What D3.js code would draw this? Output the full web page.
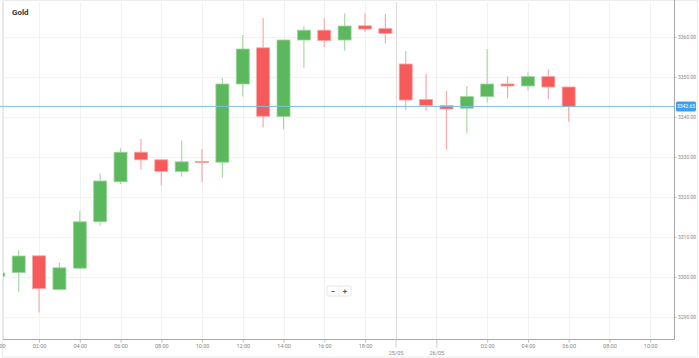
<!DOCTYPE html>
<html><head><meta charset="utf-8">
<script src="https://cdn.jsdelivr.net/npm/d3@7"></script>
<style>body{margin:0;background:#fff;font-family:Roboto,"Open Sans",sans-serif}svg{display:block}</style>
</head><body><svg id="c" width="699" height="358"></svg>
<script>
// ---- data ----
const candleIndex = [0,1,2,3,4,5,6,7,8,9,10,11,12,13,14,15,16,17,18,19,20,21,22,23,24,25,26,27,28];
const openV  = [3300.2,3301.1,3305.3,3296.9,3302.2,3313.8,3323.8,3331.2,3329.3,3326.4,3328.9,3328.7,3348.25,3357.3,3340.1,3359.25,3361.7,3359.25,3362.8,3362.1,3353.25,3344.4,3342.9,3342.2,3345.1,3348.25,3347.75,3350.1,3347.5];
const highV  = [3302.0,3306.75,3305.3,3303.6,3316.5,3325.9,3332.2,3334.5,3329.3,3334.1,3332.0,3349.8,3360.5,3364.75,3359.3,3362.6,3364.7,3365.9,3365.9,3365.75,3356.5,3350.75,3346.5,3347.75,3357.0,3350.1,3351.2,3351.9,3347.5];
const lowV   = [3298.5,3296.25,3291.1,3296.8,3302.0,3312.8,3323.25,3326.9,3322.8,3325.1,3323.7,3324.8,3345.1,3337.4,3336.9,3352.3,3357.5,3356.6,3361.25,3358.4,3341.75,3341.6,3331.75,3335.9,3343.6,3344.7,3346.6,3344.5,3338.8];
const closeV = [3301.0,3305.25,3297.1,3302.3,3313.8,3324.0,3331.2,3329.3,3326.4,3328.8,3328.6,3348.25,3357.0,3340.2,3359.25,3361.7,3359.1,3362.75,3362.0,3360.9,3344.25,3342.9,3342.0,3345.1,3348.25,3347.75,3350.1,3347.5,3342.65];
const timeTickIndex  = [0,2,4,6,8,10,12,14,16,18,24,26,28,30,32];
const timeTickLabels = ["00:00","02:00","04:00","06:00","08:00","10:00","12:00","14:00","16:00","18:00","02:00","04:00","06:00","08:00","10:00"];
const dateTickIndex  = [19.5,21.5];
const dateTickLabels = ["25/05","26/05"];
const priceTicks = [3290,3300,3310,3320,3330,3340,3350,3360];
const currentPrice = 3342.65;
const title = "Gold";

const candles = candleIndex.map((i,k)=>({i,o:openV[k],h:highV[k],l:lowV[k],c:closeV[k]}));

// ---- layout ----
const W=699,H=358, L=3, R=674, T=2, B=339;
const svg=d3.select("#c");
const x=d3.scaleLinear().domain([1,28]).range([18.7,568.7]);
const y=d3.scaleLinear().domain([3290,3360]).range([317,37]);

svg.append("rect").attr("x",2.5).attr("y",0.5).attr("width",W-4).attr("height",H-1.5)
  .attr("fill","#fff").attr("stroke","#ececec");

svg.append("defs").append("clipPath").attr("id","clip")
  .append("rect").attr("x",L).attr("y",T).attr("width",R-L).attr("height",B-T);

const grid=svg.append("g");
grid.selectAll("line.h").data(priceTicks).join("line")
  .attr("x1",L).attr("x2",R).attr("y1",d=>Math.round(y(d))+0.5).attr("y2",d=>Math.round(y(d))+0.5)
  .attr("stroke","#f2f2f2");
grid.selectAll("line.v").data(timeTickIndex).join("line")
  .attr("x1",d=>Math.round(x(d))+0.5).attr("x2",d=>Math.round(x(d))+0.5).attr("y1",T).attr("y2",B)
  .attr("stroke","#f2f2f2");
grid.selectAll("line.d").data(dateTickIndex).join("line")
  .attr("x1",d=>Math.round(x(d))+0.5).attr("x2",d=>Math.round(x(d))+0.5).attr("y1",T).attr("y2",B)
  .attr("stroke",(d,k)=>k===0?"#dcdcdc":"#eeeeee");

// left / top frame lines
svg.append("line").attr("x1",L+0.5).attr("x2",L+0.5).attr("y1",T).attr("y2",B).attr("stroke","#e6e6e6");

const plot=svg.append("g").attr("clip-path","url(#clip)");
const green="#5cb85c", red="#f75a5a";
const bw=13;
const g=plot.selectAll("g.candle").data(candles).join("g");
g.append("line")
  .attr("x1",d=>x(d.i)).attr("x2",d=>x(d.i))
  .attr("y1",d=>y(d.h)).attr("y2",d=>y(d.l))
  .attr("stroke",d=>d.c>=d.o?"#a9dba9":"#f9abab").attr("stroke-width",1.2);
g.append("rect")
  .attr("x",d=>x(d.i)-bw/2).attr("width",bw)
  .attr("y",d=>y(Math.max(d.o,d.c)))
  .attr("height",d=>Math.max(1.2,Math.abs(y(d.o)-y(d.c))))
  .attr("fill",d=>d.c>=d.o?green:red)
  .attr("stroke",d=>d.c>=d.o?"#9ed59e":"#fba3a3").attr("stroke-width",0.8);

// current price line
svg.append("line").attr("x1",0).attr("x2",R).attr("y1",y(currentPrice)).attr("y2",y(currentPrice))
  .attr("stroke","#7dbdeb").attr("stroke-width",1);

// axes lines
svg.append("line").attr("x1",L).attr("x2",R+0.5).attr("y1",B+0.5).attr("y2",B+0.5).attr("stroke","#a8a8a8");
svg.append("line").attr("x1",R+0.5).attr("x2",R+0.5).attr("y1",0).attr("y2",B+0.5).attr("stroke","#a8a8a8");

// right axis
const ya=svg.append("g").attr("transform",`translate(${R+0.5},0)`)
  .call(d3.axisRight(y).tickValues(priceTicks).tickFormat(d3.format(".2f")).tickSize(2).tickPadding(1.5));
ya.select(".domain").remove();
ya.selectAll("line").attr("stroke","#bbb");
ya.selectAll("text").attr("fill","#888").attr("font-size",5).attr("font-family","Roboto,sans-serif");

// bottom time axis
const xa=svg.append("g").attr("transform",`translate(0,${B+0.5})`)
  .call(d3.axisBottom(x).tickValues(timeTickIndex).tickFormat((d,k)=>timeTickLabels[k]).tickSize(3).tickPadding(2));
xa.select(".domain").remove();
xa.selectAll("line").attr("stroke","#bbb");
xa.selectAll("text").attr("fill","#888").attr("font-size",5.5).attr("font-family","Roboto,sans-serif");

const xd=svg.append("g").attr("transform",`translate(0,${B+0.5})`)
  .call(d3.axisBottom(x).tickValues(dateTickIndex).tickFormat((d,k)=>dateTickLabels[k]).tickSize(8).tickPadding(4));
xd.select(".domain").remove();
xd.selectAll("line").attr("stroke","#ccc");
xd.selectAll("text").attr("fill","#888").attr("font-size",5.5).attr("font-family","Roboto,sans-serif");

// price label
const py=y(currentPrice);
svg.append("rect").attr("x",R+2).attr("y",py-5).attr("width",20).attr("height",10).attr("rx",1.5)
  .attr("fill","#3d9ff0");
svg.append("text").attr("x",R+12).attr("y",py+1.8).attr("text-anchor","middle")
  .attr("fill","#fff").attr("font-size",5).attr("font-family","Roboto,sans-serif").text(currentPrice.toFixed(2));

// title
svg.append("text").attr("x",12).attr("y",15).attr("font-size",8).attr("font-weight","bold")
  .attr("fill","#333").attr("font-family","Roboto,sans-serif").text(title);

// zoom control
const zc=svg.append("g").attr("transform","translate(327,286)");
zc.append("rect").attr("width",24).attr("height",10).attr("rx",1).attr("fill","#fff").attr("stroke","#e6e6e6");
zc.append("line").attr("x1",12).attr("x2",12).attr("y1",1).attr("y2",9).attr("stroke","#eee");
zc.append("text").attr("x",6).attr("y",7.5).attr("text-anchor","middle").attr("font-size",8).attr("font-weight","bold").attr("fill","#555").text("−");
zc.append("text").attr("x",18).attr("y",7.8).attr("text-anchor","middle").attr("font-size",8).attr("font-weight","bold").attr("fill","#555").text("+");
</script></body></html>
